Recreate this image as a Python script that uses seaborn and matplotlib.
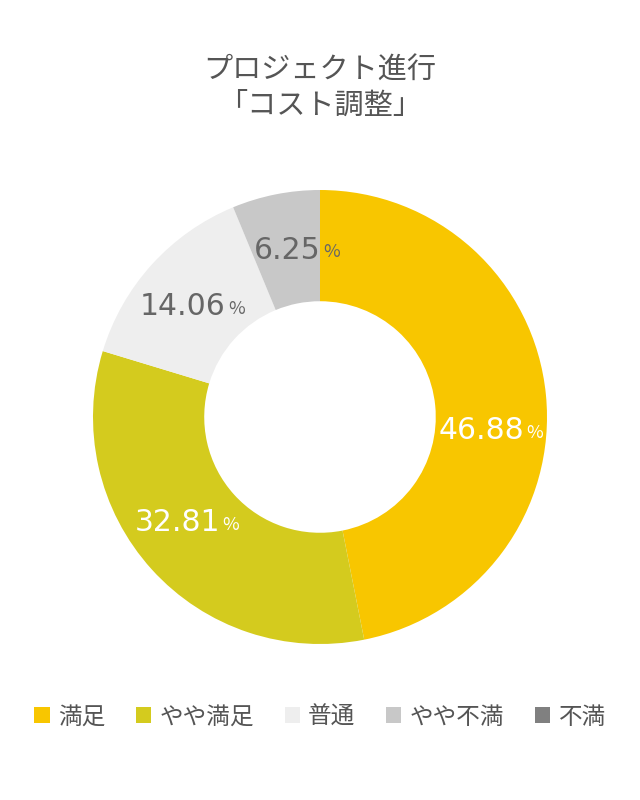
import numpy as np
import seaborn as sns
import matplotlib.pyplot as plt
from matplotlib.patches import Patch

sns.set_theme(style="white")
plt.rcParams['font.family'] = ['Noto Sans CJK JP', 'DejaVu Sans']

categories = ["満足", "やや満足", "普通", "やや不満", "不満"]
values = [46.88, 32.81, 14.06, 6.25, 0.0]
colors = ["#F8C600", "#D4CB1E", "#EEEEEE", "#C8C8C8", "#808080"]
label_colors = ["white", "white", "#666666", "#666666", None]
title = "プロジェクト進行\n「コスト調整」"

# small hand nudges (in points) so labels sit where the original puts them
nudge = {0: (-6, -22), 1: (-12, 6), 2: (-8, -3)}

fig = plt.figure(figsize=(6.4, 8), dpi=100)
# pie area: centre at (320, 417) px, radius ~227 px
ax = fig.add_axes([(320 - 227) / 640, (800 - 417 - 227) / 800, 454 / 640, 454 / 800])

wedges, _ = ax.pie(values, colors=colors, startangle=90, counterclock=False,
                   radius=1.0, wedgeprops=dict(width=0.49, linewidth=0))
ax.set_aspect("equal")
ax.set_xlim(-1, 1)
ax.set_ylim(-1, 1)
ax.axis("off")

total = sum(values)
start = 90.0
for i, (v, c) in enumerate(zip(values, label_colors)):
    span = 360.0 * v / total
    mid = np.deg2rad(start - span / 2)
    start -= span
    if v <= 0:
        continue
    r = 0.75
    dx, dy = nudge.get(i, (0, 0))
    t = ax.annotate(f"{v:.2f}", xy=(r * np.cos(mid), r * np.sin(mid)),
                    xytext=(dx, dy), textcoords="offset points", color=c,
                    fontsize=21.5, ha="center", va="center", family="DejaVu Sans")
    ax.annotate("%", xy=(1, 0.12), xycoords=t, xytext=(2, 0), textcoords="offset points",
                color=c, fontsize=13, ha="left", va="bottom")

fig.text(0.5, 1 - 88 / 800, title, ha="center", va="center", fontsize=21,
         color="#555555", linespacing=1.2)

handles = [Patch(facecolor=col, edgecolor="none") for col in colors]
fig.legend(handles, categories, loc="center", bbox_to_anchor=(0.5, 1 - 717 / 800),
           ncol=5, frameon=False, fontsize=17, handlelength=0.65, handleheight=0.65,
           handletextpad=0.35, columnspacing=1.3, labelcolor="#555555")

fig.savefig("out.png", dpi=100, facecolor="white")
